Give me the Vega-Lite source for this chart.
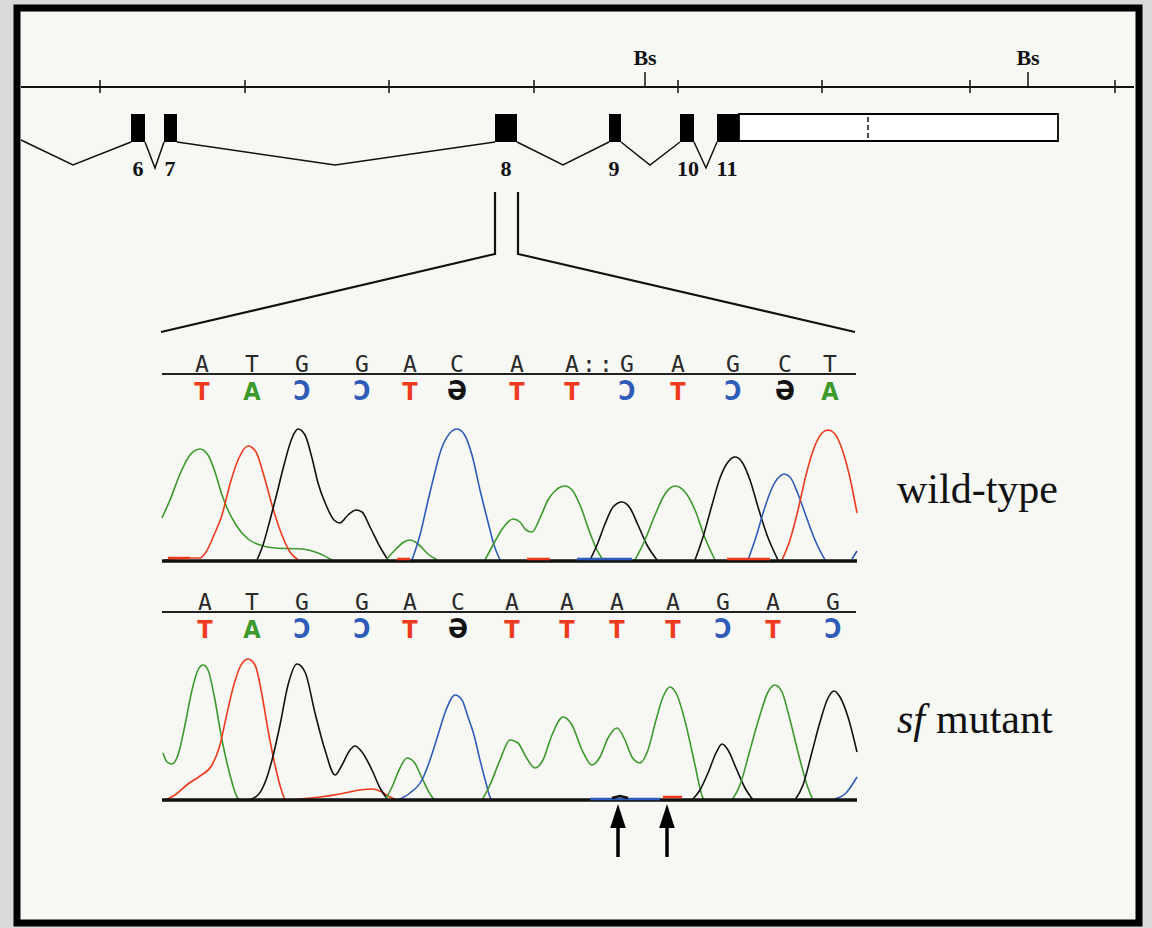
{
  "$schema": "https://vega.github.io/schema/vega-lite/v6.json",
  "width": 1152,
  "height": 928,
  "autosize": {"type": "fit", "contains": "padding"},
  "padding": 0,
  "background": "#d9d9d9",
  "config": {"view": {"stroke": null}},
  "datasets": {
    "frame": [{"x": 17, "x2": 1139, "y": 8, "y2": 923}],
    "mainline": [{"x": 21, "x2": 1134, "y": 87}],
    "ticks": [
      {"x": 100, "y": 80, "y2": 93}, {"x": 245, "y": 80, "y2": 93}, {"x": 389, "y": 80, "y2": 93},
      {"x": 534, "y": 80, "y2": 93}, {"x": 678, "y": 80, "y2": 93}, {"x": 822, "y": 80, "y2": 93},
      {"x": 970, "y": 80, "y2": 93}, {"x": 1115, "y": 80, "y2": 93},
      {"x": 645, "y": 72, "y2": 87}, {"x": 1028, "y": 72, "y2": 87}
    ],
    "bs": [{"x": 645, "y": 65, "label": "Bs"}, {"x": 1028, "y": 65, "label": "Bs"}],
    "exons": [
      {"x": 131, "x2": 145, "y": 114, "y2": 142}, {"x": 164, "x2": 177, "y": 114, "y2": 142},
      {"x": 495, "x2": 517, "y": 114, "y2": 142}, {"x": 609, "x2": 621, "y": 114, "y2": 142},
      {"x": 680, "x2": 694, "y": 114, "y2": 142}, {"x": 717, "x2": 739, "y": 114, "y2": 142}
    ],
    "utr": [{"x": 739, "x2": 1058, "y": 114, "y2": 141}],
    "dash": [{"x": 868, "y": 117, "y2": 139}],
    "introns": [
      {"seg": "i0", "ord": 0, "x": 21, "y": 140}, {"seg": "i0", "ord": 1, "x": 73, "y": 165}, {"seg": "i0", "ord": 2, "x": 131, "y": 142},
      {"seg": "i1", "ord": 0, "x": 145, "y": 142}, {"seg": "i1", "ord": 1, "x": 155, "y": 168}, {"seg": "i1", "ord": 2, "x": 164, "y": 142},
      {"seg": "i2", "ord": 0, "x": 177, "y": 142}, {"seg": "i2", "ord": 1, "x": 335, "y": 165}, {"seg": "i2", "ord": 2, "x": 495, "y": 142},
      {"seg": "i3", "ord": 0, "x": 517, "y": 142}, {"seg": "i3", "ord": 1, "x": 563, "y": 165}, {"seg": "i3", "ord": 2, "x": 609, "y": 142},
      {"seg": "i4", "ord": 0, "x": 621, "y": 142}, {"seg": "i4", "ord": 1, "x": 650, "y": 165}, {"seg": "i4", "ord": 2, "x": 680, "y": 142},
      {"seg": "i5", "ord": 0, "x": 694, "y": 142}, {"seg": "i5", "ord": 1, "x": 706, "y": 168}, {"seg": "i5", "ord": 2, "x": 717, "y": 142}
    ],
    "exonlabels": [
      {"x": 138, "y": 176, "label": "6"}, {"x": 170, "y": 176, "label": "7"}, {"x": 506, "y": 176, "label": "8"},
      {"x": 614, "y": 176, "label": "9"}, {"x": 688, "y": 176, "label": "10"}, {"x": 727, "y": 176, "label": "11"}
    ],
    "zoomlines": [
      {"seg": "L", "ord": 0, "x": 495, "y": 192}, {"seg": "L", "ord": 1, "x": 495, "y": 254}, {"seg": "L", "ord": 2, "x": 161, "y": 332},
      {"seg": "R", "ord": 0, "x": 518, "y": 192}, {"seg": "R", "ord": 1, "x": 518, "y": 254}, {"seg": "R", "ord": 2, "x": 855, "y": 332}
    ],
    "seqlines": [{"x": 162, "x2": 856, "y": 374}, {"x": 162, "x2": 856, "y": 612}],
    "baselines": [{"x": 162, "x2": 857, "y": 561}, {"x": 162, "x2": 857, "y": 800}],
    "letters": [
      {"x": 202, "y": 372, "label": "A"}, {"x": 252, "y": 372, "label": "T"}, {"x": 302, "y": 372, "label": "G"},
      {"x": 362, "y": 372, "label": "G"}, {"x": 410, "y": 372, "label": "A"}, {"x": 457, "y": 372, "label": "C"},
      {"x": 517, "y": 372, "label": "A"}, {"x": 572, "y": 372, "label": "A"}, {"x": 589, "y": 372, "label": ":"},
      {"x": 606, "y": 372, "label": ":"}, {"x": 627, "y": 372, "label": "G"}, {"x": 678, "y": 372, "label": "A"},
      {"x": 733, "y": 372, "label": "G"}, {"x": 785, "y": 372, "label": "C"}, {"x": 830, "y": 372, "label": "T"},
      {"x": 205, "y": 610, "label": "A"}, {"x": 252, "y": 610, "label": "T"}, {"x": 302, "y": 610, "label": "G"},
      {"x": 362, "y": 610, "label": "G"}, {"x": 410, "y": 610, "label": "A"}, {"x": 458, "y": 610, "label": "C"},
      {"x": 512, "y": 610, "label": "A"}, {"x": 567, "y": 610, "label": "A"}, {"x": 617, "y": 610, "label": "A"},
      {"x": 673, "y": 610, "label": "A"}, {"x": 723, "y": 610, "label": "G"}, {"x": 773, "y": 610, "label": "A"},
      {"x": 833, "y": 610, "label": "G"}
    ],
    "comp": [
      {"x": 202, "y": 400, "base": "T", "label": "T"}, {"x": 252, "y": 400, "base": "A", "label": "A"},
      {"x": 302, "y": 400, "base": "C", "label": "Ↄ"}, {"x": 362, "y": 400, "base": "C", "label": "Ↄ"},
      {"x": 410, "y": 400, "base": "T", "label": "T"}, {"x": 457, "y": 400, "base": "G", "label": "Ә"},
      {"x": 517, "y": 400, "base": "T", "label": "T"}, {"x": 572, "y": 400, "base": "T", "label": "T"},
      {"x": 627, "y": 400, "base": "C", "label": "Ↄ"}, {"x": 678, "y": 400, "base": "T", "label": "T"},
      {"x": 733, "y": 400, "base": "C", "label": "Ↄ"}, {"x": 785, "y": 400, "base": "G", "label": "Ә"},
      {"x": 830, "y": 400, "base": "A", "label": "A"},
      {"x": 205, "y": 638, "base": "T", "label": "T"}, {"x": 252, "y": 638, "base": "A", "label": "A"},
      {"x": 302, "y": 638, "base": "C", "label": "Ↄ"}, {"x": 362, "y": 638, "base": "C", "label": "Ↄ"},
      {"x": 410, "y": 638, "base": "T", "label": "T"}, {"x": 458, "y": 638, "base": "G", "label": "Ә"},
      {"x": 512, "y": 638, "base": "T", "label": "T"}, {"x": 567, "y": 638, "base": "T", "label": "T"},
      {"x": 617, "y": 638, "base": "T", "label": "T"}, {"x": 673, "y": 638, "base": "T", "label": "T"},
      {"x": 723, "y": 638, "base": "C", "label": "Ↄ"}, {"x": 773, "y": 638, "base": "T", "label": "T"},
      {"x": 833, "y": 638, "base": "C", "label": "Ↄ"}
    ],
    "traces": [
      {"trace": "wA1", "base": "A", "x": 162, "y": 518}, {"trace": "wA1", "base": "A", "x": 170, "y": 500}, {"trace": "wA1", "base": "A", "x": 180, "y": 474}, {"trace": "wA1", "base": "A", "x": 190, "y": 455}, {"trace": "wA1", "base": "A", "x": 200, "y": 449}, {"trace": "wA1", "base": "A", "x": 208, "y": 455}, {"trace": "wA1", "base": "A", "x": 215, "y": 472}, {"trace": "wA1", "base": "A", "x": 222, "y": 495}, {"trace": "wA1", "base": "A", "x": 228, "y": 510}, {"trace": "wA1", "base": "A", "x": 236, "y": 525}, {"trace": "wA1", "base": "A", "x": 248, "y": 539}, {"trace": "wA1", "base": "A", "x": 260, "y": 545}, {"trace": "wA1", "base": "A", "x": 275, "y": 548}, {"trace": "wA1", "base": "A", "x": 302, "y": 549}, {"trace": "wA1", "base": "A", "x": 318, "y": 553}, {"trace": "wA1", "base": "A", "x": 332, "y": 560},
      {"trace": "wT1", "base": "T", "x": 165, "y": 560}, {"trace": "wT1", "base": "T", "x": 190, "y": 558}, {"trace": "wT1", "base": "T", "x": 200, "y": 558}, {"trace": "wT1", "base": "T", "x": 206, "y": 552}, {"trace": "wT1", "base": "T", "x": 214, "y": 535}, {"trace": "wT1", "base": "T", "x": 222, "y": 515}, {"trace": "wT1", "base": "T", "x": 230, "y": 484}, {"trace": "wT1", "base": "T", "x": 238, "y": 460}, {"trace": "wT1", "base": "T", "x": 248, "y": 446}, {"trace": "wT1", "base": "T", "x": 256, "y": 452}, {"trace": "wT1", "base": "T", "x": 264, "y": 476}, {"trace": "wT1", "base": "T", "x": 272, "y": 505}, {"trace": "wT1", "base": "T", "x": 280, "y": 530}, {"trace": "wT1", "base": "T", "x": 290, "y": 552}, {"trace": "wT1", "base": "T", "x": 298, "y": 560},
      {"trace": "wG1", "base": "G", "x": 257, "y": 560}, {"trace": "wG1", "base": "G", "x": 263, "y": 545}, {"trace": "wG1", "base": "G", "x": 270, "y": 520}, {"trace": "wG1", "base": "G", "x": 276, "y": 497}, {"trace": "wG1", "base": "G", "x": 284, "y": 465}, {"trace": "wG1", "base": "G", "x": 292, "y": 438}, {"trace": "wG1", "base": "G", "x": 298, "y": 429}, {"trace": "wG1", "base": "G", "x": 305, "y": 435}, {"trace": "wG1", "base": "G", "x": 312, "y": 458}, {"trace": "wG1", "base": "G", "x": 318, "y": 483}, {"trace": "wG1", "base": "G", "x": 326, "y": 505}, {"trace": "wG1", "base": "G", "x": 334, "y": 520}, {"trace": "wG1", "base": "G", "x": 340, "y": 523}, {"trace": "wG1", "base": "G", "x": 348, "y": 515}, {"trace": "wG1", "base": "G", "x": 356, "y": 510}, {"trace": "wG1", "base": "G", "x": 362, "y": 512}, {"trace": "wG1", "base": "G", "x": 370, "y": 527}, {"trace": "wG1", "base": "G", "x": 380, "y": 547}, {"trace": "wG1", "base": "G", "x": 388, "y": 560},
      {"trace": "wA2", "base": "A", "x": 386, "y": 560}, {"trace": "wA2", "base": "A", "x": 396, "y": 549}, {"trace": "wA2", "base": "A", "x": 404, "y": 542}, {"trace": "wA2", "base": "A", "x": 410, "y": 540}, {"trace": "wA2", "base": "A", "x": 418, "y": 544}, {"trace": "wA2", "base": "A", "x": 428, "y": 554}, {"trace": "wA2", "base": "A", "x": 437, "y": 560},
      {"trace": "wC1", "base": "C", "x": 412, "y": 560}, {"trace": "wC1", "base": "C", "x": 420, "y": 535}, {"trace": "wC1", "base": "C", "x": 427, "y": 505}, {"trace": "wC1", "base": "C", "x": 433, "y": 480}, {"trace": "wC1", "base": "C", "x": 441, "y": 450}, {"trace": "wC1", "base": "C", "x": 450, "y": 433}, {"trace": "wC1", "base": "C", "x": 457, "y": 429}, {"trace": "wC1", "base": "C", "x": 464, "y": 434}, {"trace": "wC1", "base": "C", "x": 472, "y": 455}, {"trace": "wC1", "base": "C", "x": 480, "y": 490}, {"trace": "wC1", "base": "C", "x": 488, "y": 522}, {"trace": "wC1", "base": "C", "x": 494, "y": 545}, {"trace": "wC1", "base": "C", "x": 500, "y": 560},
      {"trace": "wA3", "base": "A", "x": 485, "y": 560}, {"trace": "wA3", "base": "A", "x": 493, "y": 545}, {"trace": "wA3", "base": "A", "x": 503, "y": 528}, {"trace": "wA3", "base": "A", "x": 513, "y": 519}, {"trace": "wA3", "base": "A", "x": 520, "y": 522}, {"trace": "wA3", "base": "A", "x": 526, "y": 530}, {"trace": "wA3", "base": "A", "x": 532, "y": 532}, {"trace": "wA3", "base": "A", "x": 540, "y": 518}, {"trace": "wA3", "base": "A", "x": 548, "y": 500}, {"trace": "wA3", "base": "A", "x": 556, "y": 490}, {"trace": "wA3", "base": "A", "x": 565, "y": 486}, {"trace": "wA3", "base": "A", "x": 572, "y": 490}, {"trace": "wA3", "base": "A", "x": 580, "y": 505}, {"trace": "wA3", "base": "A", "x": 590, "y": 533}, {"trace": "wA3", "base": "A", "x": 597, "y": 550}, {"trace": "wA3", "base": "A", "x": 603, "y": 560},
      {"trace": "wG2", "base": "G", "x": 590, "y": 560}, {"trace": "wG2", "base": "G", "x": 597, "y": 545}, {"trace": "wG2", "base": "G", "x": 605, "y": 524}, {"trace": "wG2", "base": "G", "x": 613, "y": 507}, {"trace": "wG2", "base": "G", "x": 622, "y": 502}, {"trace": "wG2", "base": "G", "x": 630, "y": 508}, {"trace": "wG2", "base": "G", "x": 638, "y": 525}, {"trace": "wG2", "base": "G", "x": 647, "y": 545}, {"trace": "wG2", "base": "G", "x": 657, "y": 560},
      {"trace": "wA4", "base": "A", "x": 635, "y": 560}, {"trace": "wA4", "base": "A", "x": 645, "y": 540}, {"trace": "wA4", "base": "A", "x": 655, "y": 515}, {"trace": "wA4", "base": "A", "x": 665, "y": 494}, {"trace": "wA4", "base": "A", "x": 675, "y": 486}, {"trace": "wA4", "base": "A", "x": 685, "y": 492}, {"trace": "wA4", "base": "A", "x": 695, "y": 510}, {"trace": "wA4", "base": "A", "x": 705, "y": 538}, {"trace": "wA4", "base": "A", "x": 715, "y": 560},
      {"trace": "wG3", "base": "G", "x": 695, "y": 560}, {"trace": "wG3", "base": "G", "x": 703, "y": 537}, {"trace": "wG3", "base": "G", "x": 712, "y": 505}, {"trace": "wG3", "base": "G", "x": 720, "y": 478}, {"trace": "wG3", "base": "G", "x": 728, "y": 462}, {"trace": "wG3", "base": "G", "x": 735, "y": 457}, {"trace": "wG3", "base": "G", "x": 742, "y": 462}, {"trace": "wG3", "base": "G", "x": 750, "y": 480}, {"trace": "wG3", "base": "G", "x": 758, "y": 507}, {"trace": "wG3", "base": "G", "x": 767, "y": 535}, {"trace": "wG3", "base": "G", "x": 778, "y": 560},
      {"trace": "wC2", "base": "C", "x": 748, "y": 560}, {"trace": "wC2", "base": "C", "x": 756, "y": 537}, {"trace": "wC2", "base": "C", "x": 764, "y": 510}, {"trace": "wC2", "base": "C", "x": 772, "y": 488}, {"trace": "wC2", "base": "C", "x": 779, "y": 477}, {"trace": "wC2", "base": "C", "x": 784, "y": 474}, {"trace": "wC2", "base": "C", "x": 790, "y": 477}, {"trace": "wC2", "base": "C", "x": 798, "y": 494}, {"trace": "wC2", "base": "C", "x": 806, "y": 516}, {"trace": "wC2", "base": "C", "x": 815, "y": 540}, {"trace": "wC2", "base": "C", "x": 825, "y": 560},
      {"trace": "wT2", "base": "T", "x": 782, "y": 560}, {"trace": "wT2", "base": "T", "x": 790, "y": 540}, {"trace": "wT2", "base": "T", "x": 798, "y": 510}, {"trace": "wT2", "base": "T", "x": 806, "y": 475}, {"trace": "wT2", "base": "T", "x": 814, "y": 448}, {"trace": "wT2", "base": "T", "x": 822, "y": 433}, {"trace": "wT2", "base": "T", "x": 828, "y": 430}, {"trace": "wT2", "base": "T", "x": 835, "y": 434}, {"trace": "wT2", "base": "T", "x": 843, "y": 452}, {"trace": "wT2", "base": "T", "x": 850, "y": 478}, {"trace": "wT2", "base": "T", "x": 857, "y": 513},
      {"trace": "wC3", "base": "C", "x": 852, "y": 559}, {"trace": "wC3", "base": "C", "x": 857, "y": 551},
      {"trace": "mA1", "base": "A", "x": 163, "y": 753}, {"trace": "mA1", "base": "A", "x": 167, "y": 762}, {"trace": "mA1", "base": "A", "x": 172, "y": 764}, {"trace": "mA1", "base": "A", "x": 178, "y": 755}, {"trace": "mA1", "base": "A", "x": 185, "y": 725}, {"trace": "mA1", "base": "A", "x": 192, "y": 690}, {"trace": "mA1", "base": "A", "x": 198, "y": 670}, {"trace": "mA1", "base": "A", "x": 203, "y": 665}, {"trace": "mA1", "base": "A", "x": 208, "y": 670}, {"trace": "mA1", "base": "A", "x": 214, "y": 695}, {"trace": "mA1", "base": "A", "x": 222, "y": 740}, {"trace": "mA1", "base": "A", "x": 230, "y": 775}, {"trace": "mA1", "base": "A", "x": 237, "y": 797}, {"trace": "mA1", "base": "A", "x": 240, "y": 800},
      {"trace": "mT1", "base": "T", "x": 165, "y": 800}, {"trace": "mT1", "base": "T", "x": 175, "y": 795}, {"trace": "mT1", "base": "T", "x": 188, "y": 784}, {"trace": "mT1", "base": "T", "x": 200, "y": 776}, {"trace": "mT1", "base": "T", "x": 212, "y": 765}, {"trace": "mT1", "base": "T", "x": 220, "y": 745}, {"trace": "mT1", "base": "T", "x": 226, "y": 718}, {"trace": "mT1", "base": "T", "x": 233, "y": 688}, {"trace": "mT1", "base": "T", "x": 240, "y": 667}, {"trace": "mT1", "base": "T", "x": 248, "y": 659}, {"trace": "mT1", "base": "T", "x": 255, "y": 665}, {"trace": "mT1", "base": "T", "x": 262, "y": 695}, {"trace": "mT1", "base": "T", "x": 268, "y": 730}, {"trace": "mT1", "base": "T", "x": 275, "y": 765}, {"trace": "mT1", "base": "T", "x": 282, "y": 792}, {"trace": "mT1", "base": "T", "x": 285, "y": 800},
      {"trace": "mT2", "base": "T", "x": 285, "y": 800}, {"trace": "mT2", "base": "T", "x": 300, "y": 799}, {"trace": "mT2", "base": "T", "x": 320, "y": 797}, {"trace": "mT2", "base": "T", "x": 340, "y": 794}, {"trace": "mT2", "base": "T", "x": 360, "y": 790}, {"trace": "mT2", "base": "T", "x": 372, "y": 789}, {"trace": "mT2", "base": "T", "x": 382, "y": 792}, {"trace": "mT2", "base": "T", "x": 390, "y": 797}, {"trace": "mT2", "base": "T", "x": 398, "y": 800},
      {"trace": "mG1", "base": "G", "x": 248, "y": 800}, {"trace": "mG1", "base": "G", "x": 258, "y": 795}, {"trace": "mG1", "base": "G", "x": 266, "y": 780}, {"trace": "mG1", "base": "G", "x": 272, "y": 760}, {"trace": "mG1", "base": "G", "x": 280, "y": 725}, {"trace": "mG1", "base": "G", "x": 288, "y": 685}, {"trace": "mG1", "base": "G", "x": 297, "y": 664}, {"trace": "mG1", "base": "G", "x": 305, "y": 672}, {"trace": "mG1", "base": "G", "x": 315, "y": 713}, {"trace": "mG1", "base": "G", "x": 325, "y": 750}, {"trace": "mG1", "base": "G", "x": 335, "y": 775}, {"trace": "mG1", "base": "G", "x": 342, "y": 765}, {"trace": "mG1", "base": "G", "x": 350, "y": 750}, {"trace": "mG1", "base": "G", "x": 355, "y": 746}, {"trace": "mG1", "base": "G", "x": 362, "y": 752}, {"trace": "mG1", "base": "G", "x": 372, "y": 770}, {"trace": "mG1", "base": "G", "x": 380, "y": 788}, {"trace": "mG1", "base": "G", "x": 388, "y": 800},
      {"trace": "mA2", "base": "A", "x": 385, "y": 800}, {"trace": "mA2", "base": "A", "x": 392, "y": 787}, {"trace": "mA2", "base": "A", "x": 400, "y": 768}, {"trace": "mA2", "base": "A", "x": 407, "y": 758}, {"trace": "mA2", "base": "A", "x": 414, "y": 762}, {"trace": "mA2", "base": "A", "x": 422, "y": 778}, {"trace": "mA2", "base": "A", "x": 433, "y": 798}, {"trace": "mA2", "base": "A", "x": 436, "y": 800},
      {"trace": "mC1", "base": "C", "x": 398, "y": 800}, {"trace": "mC1", "base": "C", "x": 410, "y": 793}, {"trace": "mC1", "base": "C", "x": 422, "y": 780}, {"trace": "mC1", "base": "C", "x": 430, "y": 760}, {"trace": "mC1", "base": "C", "x": 438, "y": 735}, {"trace": "mC1", "base": "C", "x": 446, "y": 710}, {"trace": "mC1", "base": "C", "x": 455, "y": 695}, {"trace": "mC1", "base": "C", "x": 462, "y": 700}, {"trace": "mC1", "base": "C", "x": 468, "y": 717}, {"trace": "mC1", "base": "C", "x": 474, "y": 735}, {"trace": "mC1", "base": "C", "x": 480, "y": 760}, {"trace": "mC1", "base": "C", "x": 486, "y": 783}, {"trace": "mC1", "base": "C", "x": 490, "y": 797}, {"trace": "mC1", "base": "C", "x": 492, "y": 800},
      {"trace": "mA3", "base": "A", "x": 482, "y": 800}, {"trace": "mA3", "base": "A", "x": 490, "y": 785}, {"trace": "mA3", "base": "A", "x": 500, "y": 760}, {"trace": "mA3", "base": "A", "x": 510, "y": 740}, {"trace": "mA3", "base": "A", "x": 518, "y": 743}, {"trace": "mA3", "base": "A", "x": 526, "y": 757}, {"trace": "mA3", "base": "A", "x": 535, "y": 768}, {"trace": "mA3", "base": "A", "x": 543, "y": 760}, {"trace": "mA3", "base": "A", "x": 552, "y": 735}, {"trace": "mA3", "base": "A", "x": 563, "y": 717}, {"trace": "mA3", "base": "A", "x": 572, "y": 725}, {"trace": "mA3", "base": "A", "x": 582, "y": 750}, {"trace": "mA3", "base": "A", "x": 592, "y": 765}, {"trace": "mA3", "base": "A", "x": 600, "y": 757}, {"trace": "mA3", "base": "A", "x": 608, "y": 738}, {"trace": "mA3", "base": "A", "x": 617, "y": 728}, {"trace": "mA3", "base": "A", "x": 625, "y": 740}, {"trace": "mA3", "base": "A", "x": 632, "y": 757}, {"trace": "mA3", "base": "A", "x": 640, "y": 763}, {"trace": "mA3", "base": "A", "x": 648, "y": 750}, {"trace": "mA3", "base": "A", "x": 656, "y": 720}, {"trace": "mA3", "base": "A", "x": 663, "y": 697}, {"trace": "mA3", "base": "A", "x": 670, "y": 687}, {"trace": "mA3", "base": "A", "x": 677, "y": 695}, {"trace": "mA3", "base": "A", "x": 686, "y": 725}, {"trace": "mA3", "base": "A", "x": 695, "y": 765}, {"trace": "mA3", "base": "A", "x": 703, "y": 798}, {"trace": "mA3", "base": "A", "x": 705, "y": 800},
      {"trace": "mG2", "base": "G", "x": 692, "y": 800}, {"trace": "mG2", "base": "G", "x": 700, "y": 790}, {"trace": "mG2", "base": "G", "x": 708, "y": 773}, {"trace": "mG2", "base": "G", "x": 716, "y": 753}, {"trace": "mG2", "base": "G", "x": 722, "y": 744}, {"trace": "mG2", "base": "G", "x": 728, "y": 750}, {"trace": "mG2", "base": "G", "x": 736, "y": 768}, {"trace": "mG2", "base": "G", "x": 745, "y": 788}, {"trace": "mG2", "base": "G", "x": 753, "y": 800},
      {"trace": "mA4", "base": "A", "x": 732, "y": 800}, {"trace": "mA4", "base": "A", "x": 740, "y": 785}, {"trace": "mA4", "base": "A", "x": 750, "y": 750}, {"trace": "mA4", "base": "A", "x": 760, "y": 715}, {"trace": "mA4", "base": "A", "x": 768, "y": 692}, {"trace": "mA4", "base": "A", "x": 775, "y": 685}, {"trace": "mA4", "base": "A", "x": 782, "y": 692}, {"trace": "mA4", "base": "A", "x": 790, "y": 720}, {"trace": "mA4", "base": "A", "x": 800, "y": 760}, {"trace": "mA4", "base": "A", "x": 808, "y": 788}, {"trace": "mA4", "base": "A", "x": 813, "y": 800},
      {"trace": "mG3", "base": "G", "x": 795, "y": 800}, {"trace": "mG3", "base": "G", "x": 803, "y": 785}, {"trace": "mG3", "base": "G", "x": 812, "y": 752}, {"trace": "mG3", "base": "G", "x": 820, "y": 722}, {"trace": "mG3", "base": "G", "x": 828, "y": 698}, {"trace": "mG3", "base": "G", "x": 834, "y": 691}, {"trace": "mG3", "base": "G", "x": 840, "y": 697}, {"trace": "mG3", "base": "G", "x": 848, "y": 717}, {"trace": "mG3", "base": "G", "x": 857, "y": 752},
      {"trace": "mC2", "base": "C", "x": 835, "y": 799}, {"trace": "mC2", "base": "C", "x": 846, "y": 793}, {"trace": "mC2", "base": "C", "x": 857, "y": 777}
    ],
    "bits": [
      {"trace": "b1", "base": "T", "x": 168, "y": 558}, {"trace": "b1", "base": "T", "x": 190, "y": 558},
      {"trace": "b2", "base": "T", "x": 397, "y": 559}, {"trace": "b2", "base": "T", "x": 410, "y": 559},
      {"trace": "b3", "base": "T", "x": 527, "y": 559}, {"trace": "b3", "base": "T", "x": 550, "y": 559},
      {"trace": "b4", "base": "C", "x": 577, "y": 559}, {"trace": "b4", "base": "C", "x": 632, "y": 559},
      {"trace": "b5", "base": "T", "x": 727, "y": 559}, {"trace": "b5", "base": "T", "x": 770, "y": 559},
      {"trace": "b6", "base": "T", "x": 663, "y": 797}, {"trace": "b6", "base": "T", "x": 682, "y": 797},
      {"trace": "b7", "base": "C", "x": 590, "y": 799}, {"trace": "b7", "base": "C", "x": 660, "y": 799},
      {"trace": "b8", "base": "G", "x": 612, "y": 798}, {"trace": "b8", "base": "G", "x": 620, "y": 796}, {"trace": "b8", "base": "G", "x": 628, "y": 798}
    ],
    "roman": [{"x": 897, "y": 503, "label": "wild-type"}, {"x": 936, "y": 733, "label": "mutant"}],
    "italic": [{"x": 897, "y": 733, "label": "sf"}],
    "shafts": [{"x": 618, "y": 826, "y2": 857}, {"x": 667, "y": 826, "y2": 857}],
    "heads": [{"x": 618, "y": 816}, {"x": 667, "y": 816}]
  },
  "encoding": {
    "x": {"field": "x", "type": "quantitative", "scale": {"domain": [0, 1152], "nice": false, "zero": false}, "axis": null},
    "y": {"field": "y", "type": "quantitative", "scale": {"domain": [0, 928], "nice": false, "zero": false, "reverse": true}, "axis": null}
  },
  "layer": [
    {"data": {"name": "frame"}, "mark": {"type": "rect", "fill": "#f7f7f4", "stroke": "#000000", "strokeWidth": 7},
     "encoding": {"x2": {"field": "x2"}, "y2": {"field": "y2"}}},
    {"data": {"name": "mainline"}, "mark": {"type": "rule", "color": "#111111", "strokeWidth": 2},
     "encoding": {"x2": {"field": "x2"}}},
    {"data": {"name": "ticks"}, "mark": {"type": "rule", "color": "#111111", "strokeWidth": 1.5},
     "encoding": {"y2": {"field": "y2"}}},
    {"data": {"name": "bs"}, "mark": {"type": "text", "font": "Liberation Serif", "fontWeight": "bold", "fontSize": 22, "align": "center", "baseline": "alphabetic", "color": "#111111"},
     "encoding": {"text": {"field": "label"}}},
    {"data": {"name": "exons"}, "mark": {"type": "rect", "color": "#000000"},
     "encoding": {"x2": {"field": "x2"}, "y2": {"field": "y2"}}},
    {"data": {"name": "utr"}, "mark": {"type": "rect", "fill": "#ffffff", "stroke": "#000000", "strokeWidth": 1.8},
     "encoding": {"x2": {"field": "x2"}, "y2": {"field": "y2"}}},
    {"data": {"name": "dash"}, "mark": {"type": "rule", "color": "#111111", "strokeWidth": 1.5, "strokeDash": [5, 3]},
     "encoding": {"y2": {"field": "y2"}}},
    {"data": {"name": "introns"}, "mark": {"type": "line", "color": "#111111", "strokeWidth": 1.5},
     "encoding": {"detail": {"field": "seg"}, "order": {"field": "ord"}}},
    {"data": {"name": "exonlabels"}, "mark": {"type": "text", "font": "Liberation Serif", "fontWeight": "bold", "fontSize": 22, "align": "center", "baseline": "alphabetic", "color": "#111111"},
     "encoding": {"text": {"field": "label"}}},
    {"data": {"name": "zoomlines"}, "mark": {"type": "line", "color": "#111111", "strokeWidth": 2.2},
     "encoding": {"detail": {"field": "seg"}, "order": {"field": "ord"}}},
    {"data": {"name": "seqlines"}, "mark": {"type": "rule", "color": "#222222", "strokeWidth": 2},
     "encoding": {"x2": {"field": "x2"}}},
    {"data": {"name": "letters"}, "mark": {"type": "text", "font": "DejaVu Sans Mono", "fontSize": 23, "align": "center", "baseline": "alphabetic", "color": "#2a2a2a"},
     "encoding": {"text": {"field": "label"}}},
    {"data": {"name": "comp"}, "transform": [{"filter": "datum.base === 'T' || datum.base === 'A'"}],
     "mark": {"type": "text", "font": "DejaVu Sans Condensed, DejaVu Sans", "fontWeight": "bold", "fontSize": 25, "align": "center", "baseline": "alphabetic"},
     "encoding": {"text": {"field": "label"},
       "color": {"field": "base", "type": "nominal", "scale": {"domain": ["A", "C", "G", "T"], "range": ["#3c9a2c", "#2f5cb8", "#111111", "#ee3b1e"]}, "legend": null}}},
    {"data": {"name": "comp"}, "transform": [{"filter": "datum.base === 'C' || datum.base === 'G'"}],
     "mark": {"type": "text", "font": "DejaVu Sans Condensed, DejaVu Sans", "fontWeight": "bold", "fontSize": 26, "align": "center", "baseline": "alphabetic"},
     "encoding": {"text": {"field": "label"},
       "color": {"field": "base", "type": "nominal", "scale": {"domain": ["A", "C", "G", "T"], "range": ["#3c9a2c", "#2f5cb8", "#111111", "#ee3b1e"]}, "legend": null}}},
    {"data": {"name": "traces"}, "mark": {"type": "line", "strokeWidth": 1.6, "interpolate": "monotone"},
     "encoding": {"detail": {"field": "trace"},
       "color": {"field": "base", "type": "nominal", "scale": {"domain": ["A", "C", "G", "T"], "range": ["#3c9a2c", "#2f5cb8", "#111111", "#ee3b1e"]}, "legend": null}}},
    {"data": {"name": "baselines"}, "mark": {"type": "rule", "color": "#111111", "strokeWidth": 3.5},
     "encoding": {"x2": {"field": "x2"}}},
    {"data": {"name": "bits"}, "mark": {"type": "line", "strokeWidth": 2.5},
     "encoding": {"detail": {"field": "trace"},
       "color": {"field": "base", "type": "nominal", "scale": {"domain": ["A", "C", "G", "T"], "range": ["#3c9a2c", "#2f5cb8", "#111111", "#ee3b1e"]}, "legend": null}}},
    {"data": {"name": "roman"}, "mark": {"type": "text", "font": "Liberation Serif", "fontSize": 42, "align": "left", "baseline": "alphabetic", "color": "#111111"},
     "encoding": {"text": {"field": "label"}}},
    {"data": {"name": "italic"}, "mark": {"type": "text", "font": "Liberation Serif", "fontStyle": "italic", "fontSize": 42, "align": "left", "baseline": "alphabetic", "color": "#111111"},
     "encoding": {"text": {"field": "label"}}},
    {"data": {"name": "shafts"}, "mark": {"type": "rule", "color": "#000000", "strokeWidth": 3.5},
     "encoding": {"y2": {"field": "y2"}}},
    {"data": {"name": "heads"}, "mark": {"type": "point", "shape": "M0,-1L0.65,1L-0.65,1Z", "size": 576, "filled": true, "color": "#000000", "opacity": 1}}
  ]
}
